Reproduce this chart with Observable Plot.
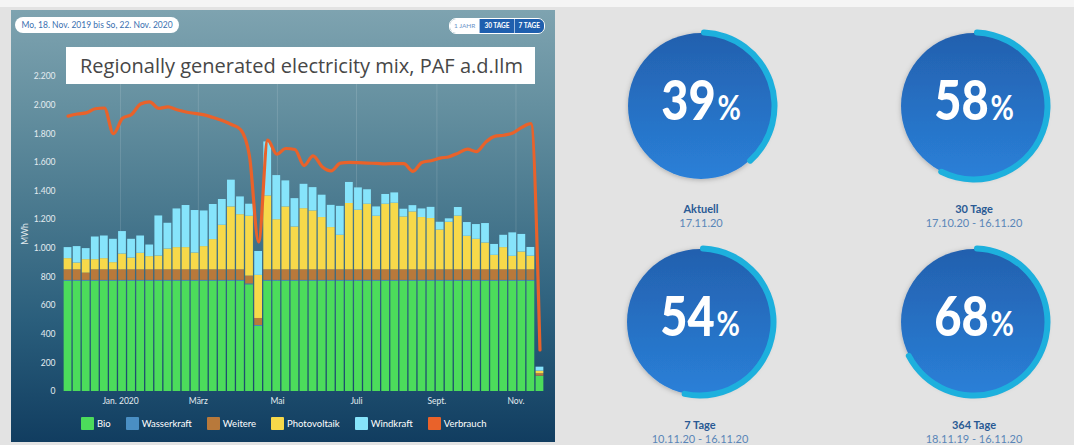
<!DOCTYPE html>
<html><head><meta charset="utf-8">
<script src="https://cdn.jsdelivr.net/npm/d3@7"></script>
<script src="https://cdn.jsdelivr.net/npm/@observablehq/plot@0.6"></script>
<style>
html,body{margin:0;padding:0;}
body{width:1074px;height:445px;background:#e3e3e3;position:relative;overflow:hidden;font-family:Lato,"Open Sans",sans-serif;}
#topband{position:absolute;left:0;top:0;width:1074px;height:7px;background:#f5f5f5;}
#panel{position:absolute;left:11px;top:10px;width:544px;height:432px;overflow:hidden;
 background:linear-gradient(to bottom,#7ea3b0 0%,#6590a0 22%,#47778d 48%,#2a5e7c 72%,#113d60 100%);}
#chart{position:absolute;left:0;top:0;}
#pill{position:absolute;left:4px;top:7px;width:164px;height:16px;border-radius:8px;background:#fff;color:#3a70b0;font-size:8.5px;line-height:16px;text-align:center;}
#btns{position:absolute;left:438px;top:8px;height:14px;display:flex;border:1px solid #fff;border-radius:7px;overflow:hidden;font-size:6.5px;font-weight:700;line-height:14px;}
#btns div{padding:0 4px;color:#fff;background:#1f5fae;}
#btns div.on{background:#fff;color:#6b93c8;font-weight:400;}
#btns div + div{border-left:1px solid #9fbde0;}
#title{position:absolute;left:55px;top:37px;width:469px;height:37px;background:#fff;color:#474747;font-family:"Open Sans",sans-serif;font-size:20px;line-height:37px;padding-left:14px;box-sizing:border-box;white-space:nowrap;}
#legend{position:absolute;left:70px;top:407px;display:flex;gap:15px;font-size:9.5px;color:#fff;}
#legend .it{display:flex;align-items:center;}
#legend .sw{width:13px;height:13px;margin-right:3px;border-radius:1px;}
#gauges{position:absolute;left:560px;top:0;}
</style>
</head><body>
<div id="topband"></div>
<div id="panel">
  <div id="chart"></div>
  <div id="pill">Mo, 18. Nov. 2019 bis So, 22. Nov. 2020</div>
  <div id="btns"><div class="on">1 JAHR</div><div>30 TAGE</div><div>7 TAGE</div></div>
  <div id="title">Regionally generated electricity mix, PAF a.d.Ilm</div>
  <div id="legend"></div>
</div>
<div id="gauges"></div>
<script>
// ---- data ----
const seriesNames = ["Bio", "Wasserkraft", "Weitere", "Photovoltaik", "Windkraft"];
const seriesColors = ["#4cdc5b", "#4a8fc4", "#b8793b", "#f7d94a", "#86e4fb"];
const lineName = "Verbrauch";
const lineColor = "#e9622a";

const bio = [770,770,770,770,770,770,770,770,770,770,770,770,770,770,770,770,770,770,770,770,745,455,770,770,770,770,770,770,770,770,770,770,770,770,770,770,770,770,770,770,770,770,770,770,770,770,770,770,770,770,770,770,105];
const wasserkraft = [6,6,6,6,6,6,6,6,6,6,6,6,6,6,6,6,6,6,6,6,6,6,6,6,6,6,6,6,6,6,6,6,6,6,6,6,6,6,6,6,6,6,6,6,6,6,6,6,6,6,6,6,2];
const weitere = [74,74,51,74,74,74,74,74,74,74,74,74,74,74,74,74,74,74,74,74,55,49,74,74,74,74,74,74,74,74,74,74,74,74,74,74,74,74,74,74,74,74,74,74,74,74,74,74,74,74,74,74,17];
const photovoltaik = [78,47,94,71,78,50,110,82,115,92,96,145,155,155,117,162,211,311,439,385,418,301,516,350,439,299,427,411,365,295,241,463,416,458,374,458,465,369,404,365,358,278,332,375,234,213,187,101,155,94,124,95,18];
const windkraft = [77,115,77,158,158,163,157,131,121,81,280,180,270,294,297,249,245,180,187,124,84,167,377,308,182,198,170,163,156,155,202,147,156,101,65,68,72,54,44,60,78,54,24,60,96,103,136,76,86,164,123,61,28];
const verbrauch = [1923,1938,1946,1975,1980,1800,1908,1935,2008,2023,1978,1988,1968,1952,1942,1932,1913,1892,1865,1830,1640,1045,1755,1657,1697,1690,1578,1645,1570,1541,1595,1600,1598,1595,1593,1590,1592,1592,1538,1600,1612,1630,1640,1665,1693,1675,1740,1782,1790,1805,1845,1871,290];

const startDate = new Date(Date.UTC(2019, 10, 18));
const endDate = new Date(Date.UTC(2020, 10, 23));
const xTickDates = [new Date(Date.UTC(2020,0,1)), new Date(Date.UTC(2020,2,1)), new Date(Date.UTC(2020,4,1)), new Date(Date.UTC(2020,6,1)), new Date(Date.UTC(2020,8,1)), new Date(Date.UTC(2020,10,1))];
const xTickLabels = ["Jan. 2020", "März", "Mai", "Juli", "Sept.", "Nov."];
const yTicks = [0,200,400,600,800,1000,1200,1400,1600,1800,2000,2200];

const gaugeValues = [39, 58, 54, 68];
const gaugeLabels = ["Aktuell", "30 Tage", "7 Tage", "364 Tage"];
const gaugeRanges = ["17.11.20", "17.10.20 - 16.11.20", "10.11.20 - 16.11.20", "18.11.19 - 16.11.20"];

// ---- build table ----
const weeks = d3.utcMonday.range(startDate, endDate);
const seriesValues = [bio, wasserkraft, weitere, photovoltaik, windkraft];
const rows = [];
weeks.forEach((w, i) => {
  let acc = 0;
  seriesNames.forEach((s, k) => {
    const v = seriesValues[k][i];
    rows.push({x1: w, x2: d3.utcDay.offset(w, 7), y1: acc, y2: acc + v, series: s});
    acc += v;
  });
});
const lineData = weeks.map((w, i) => ({x: d3.utcHour.offset(w, 84), y: verbrauch[i]}));
const tickLabelMap = new Map(xTickDates.map((d, i) => [+d, xTickLabels[i]]));
const deFmt = d => d3.format(",")(d).replace(/,/g, ".");

const chart = Plot.plot({
  width: 544, height: 406,
  marginLeft: 52, marginRight: 11, marginTop: 66, marginBottom: 25,
  style: {background: "transparent", color: "#e4ecf0", fontFamily: "Lato, sans-serif", fontSize: "8.5px", overflow: "visible"},
  x: {type: "utc", domain: [startDate, endDate], ticks: xTickDates, tickFormat: d => tickLabelMap.get(+d), tickSize: 0, tickPadding: 6, label: null},
  y: {domain: [0, 2200], ticks: yTicks, tickFormat: deFmt, tickSize: 0, tickPadding: 8, label: "MWh", labelAnchor: "center", labelOffset: 42, labelArrow: "none"},
  color: {domain: seriesNames, range: seriesColors},
  marks: [
    Plot.gridX(xTickDates, {stroke: "#ffffff", strokeOpacity: 0.13}),
    Plot.rect(rows, {x1: "x1", x2: "x2", y1: "y1", y2: "y2", fill: "series", insetLeft: 0.65, insetRight: 0.65}),
    Plot.line(lineData, {x: "x", y: "y", stroke: lineColor, strokeWidth: 3.2, curve: "monotone-x"})
  ]
});
document.getElementById("chart").appendChild(chart);

// legend
const legend = d3.select("#legend");
seriesNames.concat([lineName]).forEach((s, i) => {
  const it = legend.append("div").attr("class", "it");
  it.append("div").attr("class", "sw").style("background", i < seriesNames.length ? seriesColors[i] : lineColor);
  it.append("span").text(s);
});

// gauges
const svg = d3.select("#gauges").append("svg").attr("width", 514).attr("height", 445);
const defs = svg.append("defs");
const grad = defs.append("linearGradient").attr("id", "disc").attr("x1", 0).attr("y1", 0).attr("x2", 0).attr("y2", 1);
grad.append("stop").attr("offset", "0%").attr("stop-color", "#2360ae");
grad.append("stop").attr("offset", "100%").attr("stop-color", "#2a80d8");
const f = defs.append("filter").attr("id", "sh").attr("x", "-20%").attr("y", "-20%").attr("width", "140%").attr("height", "140%");
f.append("feDropShadow").attr("dx", 0).attr("dy", 1).attr("stdDeviation", 2.5).attr("flood-color", "#000").attr("flood-opacity", 0.25);
const angle = d3.scaleLinear().domain([0, 100]).range([0, 2 * Math.PI]);
const arc = d3.arc().innerRadius(70.5).outerRadius(76.5).startAngle(0).cornerRadius(3);
const centers = [[141, 106], [414, 106], [140, 322], [414, 322]];
gaugeValues.forEach((v, i) => {
  const [cx, cy] = centers[i];
  const g = svg.append("g").attr("transform", `translate(${cx},${cy})`);
  g.append("circle").attr("r", 73).attr("fill", "url(#disc)").attr("filter", "url(#sh)");
  g.append("path").attr("d", arc({endAngle: angle(v)})).attr("fill", "#1db0dd");
  const t = g.append("text").attr("transform", "translate(0,14) scale(0.84,1)").attr("text-anchor", "middle")
    .attr("fill", "#fff").attr("font-family", "Lato, sans-serif");
  t.append("tspan").attr("font-size", 56).attr("font-weight", 900).text(v);
  t.append("tspan").attr("font-size", 34).attr("font-weight", 700).attr("dx", 2).text("%");
  g.append("text").attr("y", 107).attr("text-anchor", "middle").attr("fill", "#2a5a94").attr("font-size", 11).attr("font-weight", 700).attr("font-family", "Lato, sans-serif").text(gaugeLabels[i]);
  g.append("text").attr("y", 120.5).attr("text-anchor", "middle").attr("fill", "#5a86b8").attr("font-size", 11).attr("font-family", "Lato, sans-serif").text(gaugeRanges[i]);
});
</script>
</body></html>
